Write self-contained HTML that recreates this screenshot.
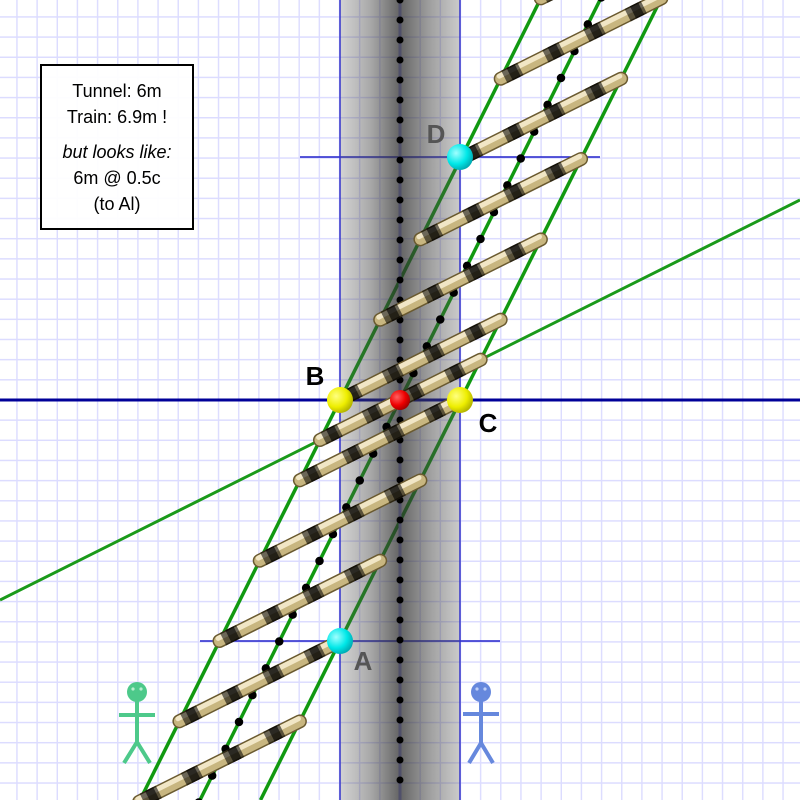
<!DOCTYPE html>
<html><head><meta charset="utf-8"><style>
html,body{margin:0;padding:0;background:#fff;}
svg{display:block;}
</style></head><body>
<svg width="800" height="800" viewBox="0 0 800 800" xmlns="http://www.w3.org/2000/svg">
<defs>
<pattern id="grid" patternUnits="userSpaceOnUse" x="16.2" y="16.2" width="20.16" height="20.16">
<path d="M0.75 0 V20.16 M0 0.75 H20.16" stroke="#dcdcff" stroke-width="1.4" fill="none"/>
</pattern>
<linearGradient id="tun" x1="0" x2="1" y1="0" y2="0">
<stop offset="0" stop-color="#505050" stop-opacity="0.25"/>
<stop offset="0.25" stop-color="#404040" stop-opacity="0.45"/>
<stop offset="0.5" stop-color="#303030" stop-opacity="0.75"/>
<stop offset="0.75" stop-color="#404040" stop-opacity="0.5"/>
<stop offset="1" stop-color="#505050" stop-opacity="0.3"/>
</linearGradient>
<radialGradient id="yel" cx="0.35" cy="0.35" r="0.7">
<stop offset="0" stop-color="#ffff80"/><stop offset="0.6" stop-color="#eeee00"/><stop offset="1" stop-color="#b0b000"/>
</radialGradient>
<radialGradient id="cy" cx="0.35" cy="0.35" r="0.7">
<stop offset="0" stop-color="#a0ffff"/><stop offset="0.6" stop-color="#00e8e8"/><stop offset="1" stop-color="#00a8b0"/>
</radialGradient>
<radialGradient id="rd" cx="0.35" cy="0.35" r="0.7">
<stop offset="0" stop-color="#ff6060"/><stop offset="0.6" stop-color="#ee0000"/><stop offset="1" stop-color="#a00000"/>
</radialGradient>
<g id="rod">
<line x1="0" y1="0" x2="160.67" y2="-80.33" stroke="#6a5a30" stroke-width="14" stroke-linecap="round"/>
<line x1="0" y1="0" x2="160.67" y2="-80.33" stroke="#c8b680" stroke-width="11" stroke-linecap="round"/>
<line x1="-1.4" y1="-2.6" x2="159.27" y2="-82.93" stroke="#f1e6c6" stroke-width="5" stroke-linecap="round"/>
<line x1="0" y1="0" x2="160.67" y2="-80.33" stroke="#000" stroke-width="14" stroke-dasharray="18 28" stroke-dashoffset="-4" opacity="0.55"/>
<line x1="0" y1="0" x2="160.67" y2="-80.33" stroke="#000" stroke-width="14" stroke-dasharray="9 37" stroke-dashoffset="-10" opacity="0.6"/>
</g>
</defs>
<rect width="800" height="800" fill="#fff"/>
<rect width="800" height="800" fill="url(#grid)"/>

<line x1="0" y1="600" x2="800" y2="200" stroke="#1a9a1a" stroke-width="3"/>
<line x1="140" y1="800" x2="540" y2="0" stroke="#119911" stroke-width="3.5"/>
<line x1="200" y1="800" x2="600" y2="0" stroke="#119911" stroke-width="3.5"/>
<line x1="260.5" y1="800" x2="660.5" y2="0" stroke="#119911" stroke-width="3.5"/>
<line x1="0" y1="400" x2="800" y2="400" stroke="#000099" stroke-width="3"/>
<line x1="300" y1="157" x2="600" y2="157" stroke="#2222cc" stroke-width="1.5"/>
<line x1="200" y1="641" x2="500" y2="641" stroke="#2222cc" stroke-width="1.5"/>

<rect x="340" y="0" width="120" height="800" fill="url(#tun)"/>
<line x1="340" y1="0" x2="340" y2="800" stroke="#3333cc" stroke-width="1.5"/>
<line x1="460" y1="0" x2="460" y2="800" stroke="#3333cc" stroke-width="1.5"/>
<line x1="400" y1="0" x2="400" y2="800" stroke="#50506a" stroke-width="3"/>
<line x1="400" y1="0" x2="400" y2="800" stroke="#000" stroke-width="7" stroke-linecap="round" stroke-dasharray="0 20"/>

<line x1="601.25" y1="-2.5" x2="198.75" y2="802.5" stroke="#000" stroke-width="8.5" stroke-linecap="round" stroke-dasharray="0 30"/>

<use href="#rod" x="139.2" y="801.7"/>
<use href="#rod" x="179.4" y="721.3"/>
<use href="#rod" x="219.5" y="641"/>
<use href="#rod" x="259.7" y="560.7"/>
<use href="#rod" x="299.9" y="480.3"/>
<use href="#rod" x="320" y="440"/>
<use href="#rod" x="340" y="400"/>
<use href="#rod" x="380.2" y="319.7"/>
<use href="#rod" x="420.4" y="239.3"/>
<use href="#rod" x="460.5" y="159"/>
<use href="#rod" x="500.7" y="78.7"/>
<use href="#rod" x="540.8" y="-1.6"/>

<circle cx="340" cy="400" r="13" fill="url(#yel)"/>
<circle cx="460" cy="400" r="13" fill="url(#yel)"/>
<circle cx="400" cy="400" r="10" fill="url(#rd)"/>
<circle cx="460" cy="157" r="13" fill="url(#cy)"/>
<circle cx="340" cy="641" r="13" fill="url(#cy)"/>

<g font-family="Liberation Sans, sans-serif" font-weight="bold" font-size="26" text-anchor="middle">
<text x="315" y="385" fill="#000">B</text>
<text x="488" y="432" fill="#000">C</text>
<text x="436" y="143" fill="#555">D</text>
<text x="363" y="670" fill="#555">A</text>
</g>

<rect x="41" y="65" width="152" height="164" fill="#fff" fill-opacity="0.92" stroke="#000" stroke-width="2"/>
<g font-family="Liberation Sans, sans-serif" font-size="18" text-anchor="middle" fill="#000">
<text x="117" y="97">Tunnel: 6m</text>
<text x="117" y="123">Train: 6.9m !</text>
<text x="117" y="158" font-style="italic">but looks like:</text>
<text x="117" y="184">6m @ 0.5c</text>
<text x="117" y="210">(to Al)</text>
</g>

<g stroke="#4dc98a" stroke-width="4" fill="none">
<line x1="137" y1="700" x2="137" y2="743"/>
<line x1="119" y1="715" x2="155" y2="715"/>
<polyline points="124,763 137,742 150,763"/>
</g>
<circle cx="137" cy="692" r="10" fill="#4dc98a"/>
<circle cx="133" cy="689" r="1.6" fill="#b8eed0"/><circle cx="141" cy="689" r="1.6" fill="#b8eed0"/>
<g stroke="#6688dd" stroke-width="4" fill="none">
<line x1="481" y1="700" x2="481" y2="743"/>
<line x1="463" y1="714" x2="499" y2="714"/>
<polyline points="469,763 481,743 493,763"/>
</g>
<circle cx="481" cy="692" r="10" fill="#6688dd"/>
<circle cx="477" cy="689" r="1.6" fill="#c0d0f8"/><circle cx="485" cy="689" r="1.6" fill="#c0d0f8"/>
</svg>
</body></html>
